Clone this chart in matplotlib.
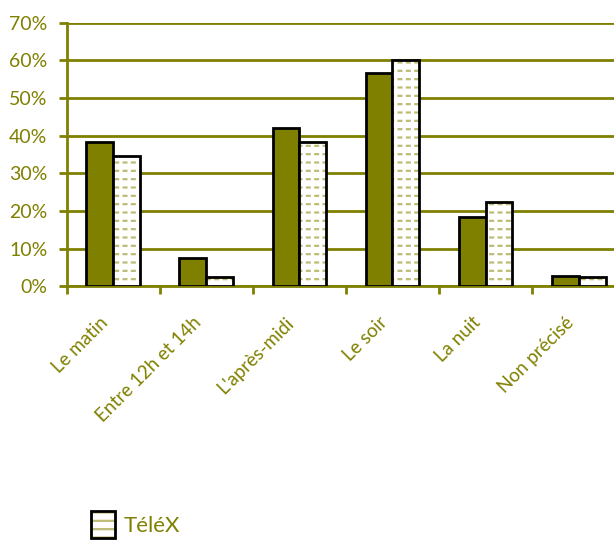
import numpy as np
import matplotlib.pyplot as plt
import matplotlib.transforms as mtransforms
from matplotlib.patches import Patch

# Data
categories = ['Le matin', 'Entre 12h et 14h', "L'après-midi", 'Le soir', 'La nuit', 'Non précisé']
serie1 = [38.4, 7.6, 42.0, 56.6, 18.4, 2.8]
telex = [34.6, 2.4, 38.4, 60.0, 22.4, 2.4]

olive = '#808000'
hatch_col = '#bcbc74'
plt.rcParams['font.family'] = ['Lato', 'DejaVu Sans']
plt.rcParams['hatch.linewidth'] = 1.6

fig = plt.figure(figsize=(6.14, 5.43), dpi=100)
ax = fig.add_axes([0.109, 0.473, 0.909, 0.485])

x = np.arange(len(categories))
w = 0.29
ax.bar(x - w/2, serie1, w, color=olive, edgecolor='black', linewidth=2, zorder=3)
# hatched fill, white vertical hatch to cut it into dashes, then black outline
ax.bar(x + w/2, telex, w, color='white', edgecolor=hatch_col, linewidth=0,
       hatch='--', zorder=3)
plt.rcParams['hatch.linewidth'] = 2.4
ax.bar(x + w/2, telex, w, fill=False, edgecolor='white', linewidth=0,
       hatch='||', zorder=3.5)
plt.rcParams['hatch.linewidth'] = 1.6
ax.bar(x + w/2, telex, w, fill=False, edgecolor='black', linewidth=2, zorder=4)

ax.set_xlim(-0.5, len(categories) - 0.5)
ax.set_ylim(0, 70)
ax.set_yticks(range(0, 71, 10))
ax.set_yticklabels([f'{v}%' for v in range(0, 71, 10)], color=olive, fontsize=14)
ax.yaxis.grid(True, color=olive, linewidth=2, zorder=0)

ax.set_xticks(np.arange(-0.5, len(categories), 1))
ax.set_xticklabels([])
ax.set_xticks(x, minor=True)
ax.set_xticklabels(categories, minor=True, rotation=45, ha='right',
                   rotation_mode='anchor', color=olive, fontsize=13.5)
ax.tick_params(axis='x', which='minor', length=0, pad=20)
ax.tick_params(axis='x', which='major', length=6, width=2, color=olive, direction='out')
ax.tick_params(axis='y', length=6, width=2, color=olive, direction='out', pad=8)

shift = mtransforms.ScaledTranslation(-14/100, 0, fig.dpi_scale_trans)
for lab in ax.get_xticklabels(minor=True):
    lab.set_transform(lab.get_transform() + shift)

for side in ['top', 'right']:
    ax.spines[side].set_visible(False)
for side in ['left', 'bottom']:
    ax.spines[side].set_color(olive)
    ax.spines[side].set_linewidth(2)

swatch = (Patch(facecolor='white', edgecolor=hatch_col, hatch='--', linewidth=0),
          Patch(fill=False, edgecolor='black', linewidth=2))
fig.legend(handles=[swatch], labels=['TéléX'],
           loc='lower left', bbox_to_anchor=(0.115, -0.028), frameon=False,
           fontsize=16, labelcolor=olive, handlelength=1.1, handleheight=1.5,
           handletextpad=0.4)

fig.savefig('out.png', dpi=100)
